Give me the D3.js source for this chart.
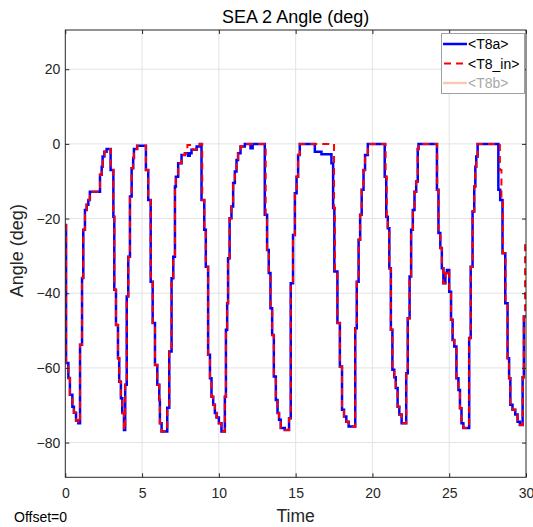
<!DOCTYPE html>
<html><head><meta charset="utf-8">
<script src="https://cdn.jsdelivr.net/npm/d3@7"></script>
<style>body{margin:0;background:#fff} svg text{font-family:"Liberation Sans",Arial,Helvetica,sans-serif}</style>
</head><body><svg id="c" width="533" height="527"></svg>
<script>
const chartTitle = "SEA 2 Angle (deg)";
const xLabel = "Time";
const yLabel = "Angle (deg)";
const xTicks = [0, 5, 10, 15, 20, 25, 30];
const yTicks = [-80, -60, -40, -20, 0, 20];
const seriesNames = ["<T8a>", "<T8_in>", "<T8b>"];

// [time, angle] step points
const t8aSteps = [[0,-21.7],[0.05,-58.7],[0.2,-62.7],[0.3,-67.2],[0.46,-70.4],[0.56,-72],[0.7,-74.1],[0.85,-74.8],[0.96,-53.8],[1.09,-35.9],[1.17,-23],[1.28,-17.7],[1.39,-16.3],[1.5,-15],[1.6,-12.8],[2.26,-8.3],[2.37,-6.1],[2.43,-3.4],[2.54,-2.1],[2.69,-1.4],[2.95,-7],[3.13,-19.5],[3.19,-39.1],[3.3,-48.5],[3.43,-57.4],[3.51,-63.7],[3.62,-68.1],[3.71,-72.1],[3.82,-76.6],[3.9,-64.5],[4.0,-40.9],[4.1,-30.2],[4.21,-14.1],[4.32,-6.5],[4.42,-3.8],[4.47,-1.4],[4.68,-0.5],[5.25,-7],[5.4,-15],[5.56,-36.9],[5.69,-48],[5.84,-59.2],[5.99,-64.5],[6.12,-68.6],[6.16,-74.8],[6.27,-77],[6.64,-70.7],[6.77,-55.6],[6.92,-36],[7.03,-30.2],[7.14,-11.4],[7.2,-8.8],[7.35,-5.2],[7.57,-3],[7.79,-2.5],[8.0,-3.2],[8.1,-2.5],[8.22,-1.6],[8.55,-0.7],[8.76,0],[8.87,-15],[9.05,-23],[9.15,-32.9],[9.3,-56.5],[9.42,-62.8],[9.52,-67.7],[9.63,-69.9],[9.74,-72.1],[9.85,-73.3],[10.0,-74.8],[10.17,-77],[10.39,-67.7],[10.46,-49.8],[10.54,-42.7],[10.6,-30.6],[10.7,-19.9],[10.82,-16.8],[10.93,-10.5],[11.04,-7.4],[11.15,-4.3],[11.25,-2.5],[11.41,-0.7],[11.69,0],[12.06,-1.2],[12.2,0],[12.99,-19],[13.14,-28.4],[13.25,-34.6],[13.36,-44],[13.47,-51.2],[13.58,-62.3],[13.71,-68.6],[13.82,-72.1],[13.92,-73.9],[14.03,-76.1],[14.29,-76.6],[14.57,-73.5],[14.68,-37.3],[14.83,-24.4],[14.95,-13.2],[15.06,-8.8],[15.16,-3],[15.27,0],[16.25,-2.1],[16.68,-2.8],[17.33,-5.2],[17.44,-17.2],[17.52,-34.2],[17.72,-48],[17.88,-59.6],[18.02,-71.2],[18.15,-73],[18.3,-74.4],[18.45,-75.7],[18.88,-49.4],[18.98,-36.9],[19.1,-25.7],[19.2,-19],[19.3,-12.3],[19.42,-7],[19.52,-3],[19.7,0],[20.8,-8.8],[20.9,-19.5],[21.0,-22.6],[21.1,-33.3],[21.2,-49.8],[21.3,-60.5],[21.42,-62.5],[21.52,-65.4],[21.64,-70.4],[21.75,-72.5],[21.9,-74.8],[22.2,-61.4],[22.3,-46.7],[22.42,-35.5],[22.52,-23],[22.63,-17.7],[22.74,-12.8],[22.85,-10.1],[22.95,-1.4],[23.0,0],[24.2,-12.3],[24.3,-23.9],[24.42,-27.9],[24.52,-33.3],[24.62,-37.3],[24.75,-34.6],[24.85,-33.8],[25.0,-39.6],[25.12,-47.1],[25.22,-52.5],[25.33,-54.3],[25.47,-62.8],[25.6,-65.9],[25.7,-70.8],[25.8,-74.8],[25.92,-76.1],[26.3,-52],[26.4,-32.9],[26.52,-18.1],[26.63,-11.4],[26.7,-6.1],[26.76,-3.4],[26.85,0],[28.2,-12.3],[28.32,-15],[28.47,-29.3],[28.65,-42.7],[28.8,-57.4],[28.9,-62.8],[28.98,-69.9],[29.12,-71.2],[29.3,-72.5],[29.45,-74.4],[29.6,-75.3],[29.78,-62.5],[29.86,-46.2],[30,-46.2]];

const t8inSteps = [[0,-21.7],[0.05,-58.7],[0.2,-62.7],[0.3,-67.2],[0.46,-70.4],[0.56,-72],[0.7,-74.1],[0.85,-74.8],[0.96,-53.8],[1.09,-35.9],[1.17,-23],[1.28,-17.7],[1.39,-16.3],[1.5,-15],[1.6,-12.8],[2.26,-8.3],[2.37,-6.1],[2.43,-3.4],[2.54,-2.1],[2.69,-1.4],[2.95,-7],[3.13,-19.5],[3.19,-39.1],[3.3,-48.5],[3.43,-57.4],[3.51,-63.7],[3.62,-68.1],[3.71,-72.1],[3.82,-76.6],[3.9,-64.5],[4.0,-40.9],[4.1,-30.2],[4.21,-14.1],[4.32,-6.5],[4.42,-3.8],[4.47,-1.4],[4.68,-0.5],[5.25,-7],[5.4,-15],[5.56,-36.9],[5.69,-48],[5.84,-59.2],[5.99,-64.5],[6.12,-68.6],[6.16,-74.8],[6.27,-77],[6.64,-70.7],[6.77,-55.6],[6.92,-36],[7.03,-30.2],[7.14,-11.4],[7.2,-8.8],[7.35,-5.2],[7.57,-3],[7.79,-2.5],[7.95,-0.3],[8.3,-1.6],[8.55,-0.7],[8.76,0],[8.92,-15],[9.05,-23],[9.15,-32.9],[9.3,-56.5],[9.42,-62.8],[9.52,-67.7],[9.63,-69.9],[9.74,-72.1],[9.85,-73.3],[10.0,-74.8],[10.17,-77],[10.39,-67.7],[10.46,-49.8],[10.54,-42.7],[10.6,-30.6],[10.7,-19.9],[10.82,-16.8],[10.93,-10.5],[11.04,-7.4],[11.15,-4.3],[11.25,-2.5],[11.41,-0.7],[11.69,0],[13.05,-19],[13.14,-28.4],[13.25,-34.6],[13.36,-44],[13.47,-51.2],[13.58,-62.3],[13.71,-68.6],[13.82,-72.1],[13.92,-73.9],[14.03,-76.1],[14.29,-76.6],[14.57,-73.5],[14.68,-37.3],[14.83,-24.4],[14.95,-13.2],[15.06,-8.8],[15.16,-3],[15.27,0],[17.5,-17.2],[17.56,-34.2],[17.72,-48],[17.88,-59.6],[18.02,-71.2],[18.15,-73],[18.3,-74.4],[18.45,-75.7],[18.88,-49.4],[18.98,-36.9],[19.1,-25.7],[19.2,-19],[19.3,-12.3],[19.42,-7],[19.52,-3],[19.7,0],[20.86,-8.8],[20.93,-19.5],[21.0,-22.6],[21.1,-33.3],[21.2,-49.8],[21.3,-60.5],[21.42,-62.5],[21.52,-65.4],[21.64,-70.4],[21.75,-72.5],[21.9,-74.8],[22.2,-61.4],[22.3,-46.7],[22.42,-35.5],[22.52,-23],[22.63,-17.7],[22.74,-12.8],[22.85,-10.1],[22.95,-1.4],[23.0,0],[24.22,-12.3],[24.3,-23.9],[24.42,-27.9],[24.52,-33.3],[24.62,-37.3],[24.75,-34.6],[24.85,-33.8],[25.0,-39.6],[25.12,-47.1],[25.22,-52.5],[25.33,-54.3],[25.47,-62.8],[25.6,-65.9],[25.7,-70.8],[25.8,-74.8],[25.92,-76.1],[26.3,-52],[26.4,-32.9],[26.52,-18.1],[26.63,-11.4],[26.7,-6.1],[26.76,-3.4],[26.85,0],[28.3,-7],[28.4,-15],[28.5,-29.3],[28.67,-42.7],[28.8,-57.4],[28.9,-62.8],[28.98,-69.9],[29.12,-71.2],[29.3,-72.5],[29.45,-74.4],[29.6,-75.3],[29.78,-62.5],[29.86,-46.2],[29.94,-26.6],[30,-26.6]];

const svg = d3.select("#c");
const L = 65.3, R = 526, T = 30, B = 477.3;
const x = d3.scaleLinear().domain([0, 30]).range([L, R]);
const y = d3.scaleLinear().domain([-89.3, 30.5]).range([B, T]);
const axisCol = "#262626";

svg.append("rect").attr("x",0).attr("y",0).attr("width",533).attr("height",527).attr("fill","#fff");

// grid
const grid = svg.append("g");
grid.selectAll("line.vx").data(xTicks.filter(d => d > 0 && d < 30)).join("line")
  .attr("x1", d => x(d)).attr("x2", d => x(d)).attr("y1", T).attr("y2", B)
  .attr("stroke", "#e3e3e3").attr("stroke-width", 1);
grid.selectAll("line.hy").data(yTicks).join("line")
  .attr("x1", L).attr("x2", R).attr("y1", d => y(d)).attr("y2", d => y(d))
  .attr("stroke", "#e3e3e3").attr("stroke-width", 1);

// clip
svg.append("clipPath").attr("id","clip").append("rect")
  .attr("x", L).attr("y", T).attr("width", R - L + 1.5).attr("height", B - T);

const line = d3.line().x(d => x(d[0])).y(d => y(d[1])).curve(d3.curveStepAfter);
const plot = svg.append("g").attr("clip-path","url(#clip)");
plot.append("path").datum(t8aSteps).attr("d", line)
  .attr("fill","none").attr("stroke","#0000ff").attr("stroke-width",2.5).attr("stroke-linejoin","miter");
plot.append("path").datum(t8inSteps).attr("d", line)
  .attr("fill","none").attr("stroke","#ff0000").attr("stroke-width",2).attr("stroke-dasharray","7,5");

// axes
const fmt = d3.format("");
const ax = svg.append("g").attr("transform", `translate(0,${B})`)
  .call(d3.axisBottom(x).tickValues(xTicks).tickSizeInner(-4).tickSizeOuter(0).tickPadding(11).tickFormat(fmt));
const ay = svg.append("g").attr("transform", `translate(${L},0)`)
  .call(d3.axisLeft(y).tickValues(yTicks).tickSizeInner(-4).tickSizeOuter(0).tickPadding(5).tickFormat(fmt));
const axT = svg.append("g").attr("transform", `translate(0,${T})`)
  .call(d3.axisTop(x).tickValues(xTicks).tickSizeInner(-4).tickSizeOuter(0).tickFormat(""));
const ayR = svg.append("g").attr("transform", `translate(${R},0)`)
  .call(d3.axisRight(y).tickValues(yTicks).tickSizeInner(-4).tickSizeOuter(0).tickFormat(""));
[ax, ay, axT, ayR].forEach(g => {
  g.select(".domain").remove();
  g.selectAll("line").attr("stroke", axisCol);
  g.selectAll("text").attr("fill", axisCol).style("font-size","14px").style("font-family",'"Liberation Sans",Arial,sans-serif');
});

svg.append("rect").attr("x", L).attr("y", T).attr("width", R - L).attr("height", B - T)
  .attr("fill","none").attr("stroke", axisCol).attr("stroke-width", 1);

// texts
svg.append("text").attr("x", (L + R) / 2).attr("y", 23).attr("text-anchor","middle")
  .style("font-size","18px").attr("fill","#000").text(chartTitle);
svg.append("text").attr("x", (L + R) / 2).attr("y", 522).attr("text-anchor","middle")
  .style("font-size","17.5px").attr("fill",axisCol).text(xLabel);
svg.append("text").attr("transform", `translate(23,${(T + B) / 2 - 3}) rotate(-90)`).attr("text-anchor","middle")
  .style("font-size","18px").attr("fill",axisCol).text(yLabel);
svg.append("text").attr("x", 14).attr("y", 522).style("font-size","14px").attr("fill","#000").text("Offset=0");

// legend
const lg = svg.append("g");
lg.append("rect").attr("x", 441.5).attr("y", 33.5).attr("width", 83).attr("height", 60)
  .attr("fill","#fff").attr("stroke","#a0a0a0").attr("stroke-width",1);
const legStyles = [
  {stroke:"#0000ff", w:2.5, dash:null, text:"#000"},
  {stroke:"#ff0000", w:2, dash:"7,5", text:"#000"},
  {stroke:"#f7c8b2", w:2.5, dash:null, text:"#a8a8a8"}
];
seriesNames.forEach((n, i) => {
  const yy = 44 + i * 19.5;
  const s = legStyles[i];
  const l = lg.append("line").attr("x1", 443).attr("x2", 467).attr("y1", yy).attr("y2", yy)
    .attr("stroke", s.stroke).attr("stroke-width", s.w);
  if (s.dash) l.attr("stroke-dasharray", s.dash).attr("stroke-dashoffset", -1);
  lg.append("text").attr("x", 468).attr("y", yy + 5).style("font-size","14px").attr("fill", s.text).text(n);
});
</script></body></html>
